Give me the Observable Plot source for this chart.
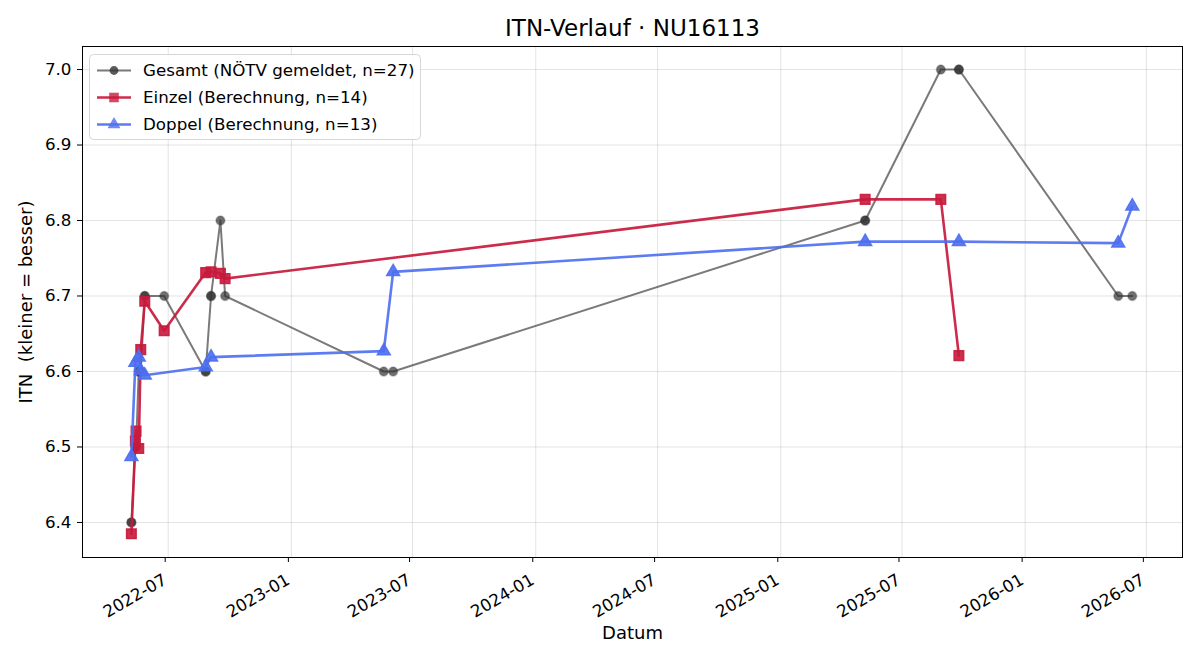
<!DOCTYPE html>
<html>
<head>
<meta charset="utf-8">
<script src="https://cdn.jsdelivr.net/npm/d3@7"></script>
<script src="https://cdn.jsdelivr.net/npm/@observablehq/plot@0.6"></script>
<style>
  html, body { margin: 0; padding: 0; background: #fff; }
  #wrap { position: relative; width: 1200px; height: 660px; font-family: "DejaVu Sans", sans-serif; }
  #legend { position: absolute; left: 89px; top: 54px; }
</style>
</head>
<body>
<div id="wrap"></div>
<script>
// ---- Data ----
const titleText = "ITN-Verlauf · NU16113";
const xLabel = "Datum";
const yLabel = "ITN  (kleiner = besser)";

const gesamtDates = [
  "2022-05-07","2022-05-07","2022-05-13","2022-05-13","2022-05-14",
  "2022-05-18","2022-05-18","2022-05-21","2022-05-21","2022-05-27",
  "2022-05-27","2022-06-25","2022-08-26","2022-08-26","2022-09-03",
  "2022-09-03","2022-09-17","2022-09-24","2023-05-19","2023-06-02",
  "2025-05-07","2025-05-07","2025-08-28","2025-09-24","2025-09-24",
  "2026-05-20","2026-06-10"
];
const gesamtValues = [
  6.4, 6.4, 6.5, 6.5, 6.5,
  6.6, 6.6, 6.6, 6.6, 6.7,
  6.7, 6.7, 6.6, 6.6, 6.7,
  6.7, 6.8, 6.7, 6.6, 6.6,
  6.8, 6.8, 7.0, 7.0, 7.0,
  6.7, 6.7
];

const einzelDates = [
  "2022-05-07","2022-05-13","2022-05-14","2022-05-18","2022-05-21",
  "2022-05-27","2022-06-25","2022-08-26","2022-09-03","2022-09-17",
  "2022-09-24","2025-05-07","2025-08-28","2025-09-24"
];
const einzelValues = [
  6.385, 6.508, 6.521, 6.498, 6.629,
  6.693, 6.654, 6.731, 6.732, 6.730,
  6.723, 6.828, 6.828, 6.621
];

const doppelDates = [
  "2022-05-07","2022-05-13","2022-05-18","2022-05-21","2022-05-27",
  "2022-08-26","2022-09-03","2023-05-19","2023-06-02","2025-05-07",
  "2025-09-24","2026-05-20","2026-06-10"
];
const doppelValues = [
  6.487, 6.612, 6.619, 6.601, 6.595,
  6.606, 6.619, 6.627, 6.732, 6.772,
  6.772, 6.770, 6.819
];

const seriesLabels = [
  "Gesamt (NÖTV gemeldet, n=27)",
  "Einzel (Berechnung, n=14)",
  "Doppel (Berechnung, n=13)"
];

const xTickDates = ["2022-07-01","2023-01-01","2023-07-01","2024-01-01","2024-07-01","2025-01-01","2025-07-01","2026-01-01","2026-07-01"];
const yTickValues = [6.4, 6.5, 6.6, 6.7, 6.8, 6.9, 7.0];
const xDomain = ["2022-02-23", "2026-08-24"];
const yDomain = [6.3536, 7.0305];

// ---- Build ----
const parse = d3.utcParse("%Y-%m-%d");
const toRows = (dates, vals) => dates.map((d, i) => ({ date: parse(d), itn: vals[i] }));
const gesamt = toRows(gesamtDates, gesamtValues);
const einzel = toRows(einzelDates, einzelValues);
const doppel = toRows(doppelDates, doppelValues);
const xTicks = xTickDates.map(parse);

const cGray = "#333333", cRed = "#c81a3c", cBlue = "#4d6ef0";
const FONT = "DejaVu Sans";

const chart = Plot.plot({
  width: 1200,
  height: 660,
  marginLeft: 82,
  marginRight: 18,
  marginTop: 46,
  marginBottom: 103,
  style: { fontFamily: FONT, background: "white", color: "black", overflow: "visible" },
  x: { type: "utc", domain: xDomain.map(parse), label: null },
  y: { domain: yDomain, label: null },
  marks: [
    Plot.gridX(xTicks, { stroke: "#b0b0b0", strokeOpacity: 0.35, strokeWidth: 1 }),
    Plot.gridY(yTickValues, { stroke: "#b0b0b0", strokeOpacity: 0.35, strokeWidth: 1 }),
    Plot.axisX(xTicks, {
      tickFormat: d3.utcFormat("%Y-%m"),
      tickRotate: -30,
      tickSize: 5,
      tickPadding: 16,
      textAnchor: "end",
      lineAnchor: "middle",
      dx: -3,
      fontSize: 16.7,
      label: null
    }),
    Plot.axisY(yTickValues, {
      tickFormat: d3.format(".1f"),
      tickSize: 5,
      tickPadding: 6,
      fontSize: 16.7,
      label: null
    }),
    Plot.line(gesamt, { x: "date", y: "itn", stroke: cGray, strokeOpacity: 0.65, strokeWidth: 2 }),
    Plot.dot(gesamt, { x: "date", y: "itn", symbol: "circle", r: 4.4, fill: cGray, fillOpacity: 0.7, stroke: cGray, strokeOpacity: 0.3 }),
    Plot.line(einzel, { x: "date", y: "itn", stroke: cRed, strokeOpacity: 0.92, strokeWidth: 2.6 }),
    Plot.dot(einzel, { x: "date", y: "itn", symbol: "square", r: 5.4, fill: cRed, fillOpacity: 0.9, stroke: cRed, strokeOpacity: 0.9 }),
    Plot.line(doppel, { x: "date", y: "itn", stroke: cBlue, strokeOpacity: 0.9, strokeWidth: 2.6 }),
    Plot.dot(doppel, { x: "date", y: "itn", symbol: "triangle", r: 4.8, fill: cBlue, fillOpacity: 0.9, stroke: cBlue, strokeOpacity: 0.9 }),
    Plot.frame({ stroke: "black", strokeWidth: 1 }),
    Plot.text([titleText], { frameAnchor: "top", dy: -18, fontSize: 23, textAnchor: "middle", lineAnchor: "middle", fill: "black" }),
    Plot.text([xLabel], { frameAnchor: "bottom", dy: 76, fontSize: 18, textAnchor: "middle", lineAnchor: "middle", fill: "black" }),
    Plot.text([yLabel], { frameAnchor: "left", dx: -56, rotate: -90, fontSize: 18, textAnchor: "middle", lineAnchor: "middle", fill: "black" })
  ]
});

const wrap = document.getElementById("wrap");
wrap.appendChild(chart);

// ---- Legend (HTML overlay) ----
const lw = 331, lh = 85;
const leg = d3.select(wrap).append("svg")
  .attr("id", "legend").attr("width", lw + 2).attr("height", lh + 2);
leg.append("rect").attr("x", 0.5).attr("y", 0.5).attr("width", lw).attr("height", lh)
  .attr("rx", 4).attr("fill", "white").attr("fill-opacity", 0.85).attr("stroke", "#d6d6d6");
const entries = [
  { label: seriesLabels[0], color: cGray, sym: d3.symbolCircle, size: Math.PI * 4.4 * 4.4, lwid: 2, op: 0.65 },
  { label: seriesLabels[1], color: cRed, sym: d3.symbolSquare, size: Math.PI * 5.4 * 5.4, lwid: 2.6, op: 0.92 },
  { label: seriesLabels[2], color: cBlue, sym: d3.symbolTriangle, size: Math.PI * 4.8 * 4.8, lwid: 2.6, op: 0.9 }
];
entries.forEach((e, i) => {
  const cy = 16.5 + i * 27;
  const g = leg.append("g");
  g.append("line").attr("x1", 8).attr("x2", 42).attr("y1", cy).attr("y2", cy)
    .attr("stroke", e.color).attr("stroke-width", e.lwid).attr("stroke-opacity", e.op);
  g.append("path").attr("d", d3.symbol(e.sym, e.size)()).attr("transform", `translate(25,${cy})`)
    .attr("fill", e.color).attr("fill-opacity", 0.8);
  g.append("text").attr("x", 54).attr("y", cy).attr("dy", "0.35em")
    .attr("font-family", FONT).attr("font-size", 16.7).attr("fill", "black").text(e.label);
});
</script>
</body>
</html>
